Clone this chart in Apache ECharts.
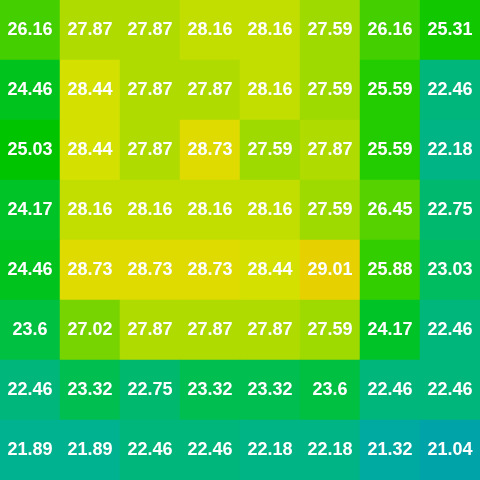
<!DOCTYPE html>
<html>
<head>
<meta charset="utf-8">
<script src="https://cdn.jsdelivr.net/npm/echarts@6/dist/echarts.min.js"></script>
<style>
  html, body { margin: 0; padding: 0; background: #fff; }
  #chart { width: 480px; height: 480px; }
</style>
</head>
<body>
<div id="chart"></div>
<script>
// columns and rows of the grid (row 0 is the top row)
const cols = ["c0", "c1", "c2", "c3", "c4", "c5", "c6", "c7"];
const rows = ["r0", "r1", "r2", "r3", "r4", "r5", "r6", "r7"];

const row0 = [26.16, 27.87, 27.87, 28.16, 28.16, 27.59, 26.16, 25.31];
const row1 = [24.46, 28.44, 27.87, 27.87, 28.16, 27.59, 25.59, 22.46];
const row2 = [25.03, 28.44, 27.87, 28.73, 27.59, 27.87, 25.59, 22.18];
const row3 = [24.17, 28.16, 28.16, 28.16, 28.16, 27.59, 26.45, 22.75];
const row4 = [24.46, 28.73, 28.73, 28.73, 28.44, 29.01, 25.88, 23.03];
const row5 = [23.6, 27.02, 27.87, 27.87, 27.87, 27.59, 24.17, 22.46];
const row6 = [22.46, 23.32, 22.75, 23.32, 23.32, 23.6, 22.46, 22.46];
const row7 = [21.89, 21.89, 22.46, 22.46, 22.18, 22.18, 21.32, 21.04];

const values = [row0, row1, row2, row3, row4, row5, row6, row7];

// build [x, y, value] triples for the heatmap
const data = [];
values.forEach((row, y) => {
  row.forEach((v, x) => {
    data.push([x, y, v]);
  });
});

const chart = echarts.init(document.getElementById("chart"), null, { renderer: "canvas" });

const option = {
  animation: false,
  grid: { left: 0, right: 0, top: 0, bottom: 0 },
  xAxis: {
    type: "category",
    data: cols,
    show: false
  },
  yAxis: {
    type: "category",
    data: rows,
    inverse: true,
    show: false
  },
  visualMap: {
    show: false,
    min: 21.04,
    max: 29.01,
    calculable: false,
    inRange: {
      // evenly spaced stops from 21.04 to 29.01
      color: [
        "#00a3a8", "#00b09c", "#00b38a", "#00b678", "#00bc60", "#00c044",
        "#00c32e", "#00c31a", "#00c400", "#1ecb00", "#3ccf00", "#5ad200",
        "#77d400", "#9ad800", "#b8dc00", "#d9e200", "#e6d000"
      ]
    }
  },
  series: [
    {
      type: "heatmap",
      data: data,
      label: {
        show: true,
        color: "#fff",
        fontFamily: "Liberation Sans, Arial, sans-serif",
        fontWeight: "bold",
        fontSize: 18,
        formatter: (p) => String(p.value[2])
      },
      itemStyle: { borderWidth: 0 },
      emphasis: { disabled: true }
    }
  ]
};

chart.setOption(option);
</script>
</body>
</html>
